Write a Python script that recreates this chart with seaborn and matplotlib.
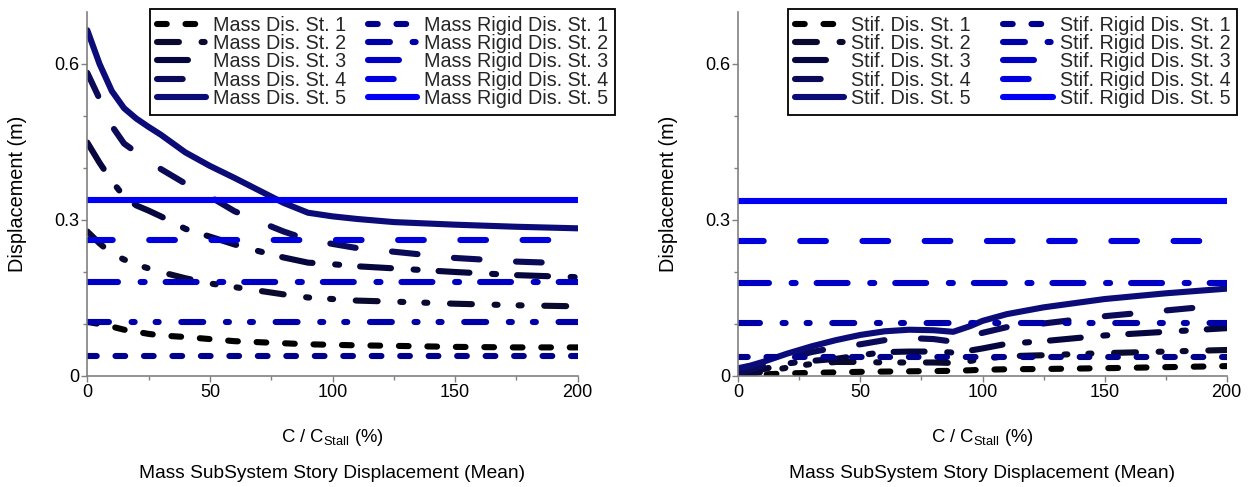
import numpy as np
import pandas as pd
import matplotlib
matplotlib.use("Agg")
import matplotlib.pyplot as plt
import seaborn as sns

# ---------------- data ----------------
x_mass = [0, 5, 10, 15, 20, 25, 30, 40, 50, 60, 70, 80, 90, 100, 110, 125, 150, 175, 200]
mass_dis_st1 = [0.104, 0.100, 0.095, 0.089, 0.085, 0.081, 0.078, 0.075, 0.071, 0.067, 0.065, 0.063,
                0.061, 0.060, 0.059, 0.058, 0.056, 0.055, 0.055]
mass_dis_st2 = [0.278, 0.255, 0.235, 0.224, 0.214, 0.207, 0.200, 0.188, 0.178, 0.171, 0.164, 0.157,
                0.151, 0.148, 0.145, 0.143, 0.139, 0.136, 0.134]
mass_dis_st3 = [0.449, 0.410, 0.375, 0.345, 0.328, 0.318, 0.307, 0.283, 0.268, 0.253, 0.240, 0.228,
                0.218, 0.215, 0.211, 0.207, 0.200, 0.194, 0.190]
mass_dis_st4 = [0.583, 0.533, 0.481, 0.447, 0.430, 0.413, 0.398, 0.370, 0.345, 0.317, 0.297, 0.278,
                0.262, 0.254, 0.246, 0.239, 0.227, 0.220, 0.216]
mass_dis_st5 = [0.665, 0.600, 0.548, 0.515, 0.495, 0.479, 0.464, 0.430, 0.404, 0.381, 0.357, 0.333,
                0.314, 0.307, 0.302, 0.296, 0.291, 0.287, 0.284]

x_stif = [0, 5, 10, 15, 20, 25, 30, 40, 50, 60, 70, 80, 88, 95, 100, 110, 125, 150, 175, 200]
stif_dis_st1 = [0.000, 0.001, 0.003, 0.004, 0.005, 0.0055, 0.006, 0.007, 0.008, 0.0085, 0.009, 0.0095,
                0.010, 0.011, 0.012, 0.013, 0.0135, 0.015, 0.017, 0.019]
stif_dis_st2 = [0.001, 0.004, 0.008, 0.012, 0.016, 0.020, 0.023, 0.027, 0.027, 0.026, 0.026, 0.026,
                0.025, 0.029, 0.033, 0.038, 0.040, 0.044, 0.047, 0.050]
stif_dis_st3 = [0.003, 0.008, 0.013, 0.018, 0.024, 0.027, 0.029, 0.033, 0.040, 0.046, 0.047, 0.047,
                0.045, 0.049, 0.053, 0.062, 0.067, 0.078, 0.085, 0.092]
stif_dis_st4 = [0.006, 0.012, 0.020, 0.028, 0.035, 0.040, 0.046, 0.055, 0.061, 0.069, 0.073, 0.071,
                0.066, 0.077, 0.083, 0.094, 0.101, 0.115, 0.126, 0.137]
stif_dis_st5 = [0.015, 0.020, 0.027, 0.035, 0.043, 0.050, 0.057, 0.069, 0.079, 0.086, 0.089, 0.088,
                0.085, 0.096, 0.106, 0.119, 0.132, 0.148, 0.159, 0.168]

x_rigid = [0, 200]
mass_rigid = [0.038, 0.1035, 0.181, 0.261, 0.339]
stif_rigid = [0.036, 0.101, 0.178, 0.260, 0.337]

mass_dis_labels = [f"Mass Dis. St. {i}" for i in range(1, 6)]
mass_rigid_labels = [f"Mass Rigid Dis. St. {i}" for i in range(1, 6)]
stif_dis_labels = [f"Stif. Dis. St. {i}" for i in range(1, 6)]
stif_rigid_labels = [f"Stif. Rigid Dis. St. {i}" for i in range(1, 6)]

x_title = "C / C$_{\\mathrm{Stall}}$ (%)"
y_title = "Displacement (m)"
sub_title = "Mass SubSystem Story Displacement (Mean)"

# ---------------- style ----------------
sns.set_theme(style="white")
plt.rcParams["font.family"] = ["Liberation Sans", "DejaVu Sans"]
plt.rcParams["mathtext.fontset"] = "custom"
plt.rcParams["mathtext.rm"] = "Liberation Sans"
plt.rcParams["mathtext.it"] = "Liberation Sans:italic"
plt.rcParams["lines.scale_dashes"] = False

dis_colors = ["#000000", "#0a0a2e", "#06063f", "#0a0a58", "#0c0c78"]
rigid_colors = ["#00008c", "#0000a8", "#0000c4", "#0000dc", "#0000f5"]
patterns = [
    (0, (7.0, 13.5)),
    (0, (15.8, 16.3, 2.2, 15.1, 2.2, 16.3)),
    (0, (22.3, 16.3, 2.9, 15.1)),
    (0, (18.5, 26.3)),
    "solid",
]
LW = 4.4
AXC = "#808080"

fig = plt.figure(figsize=(12.53, 4.87), dpi=100)
W, H = 1253, 487
ax1 = fig.add_axes([87.3 / W, 1 - 376 / H, (577.7 - 87.3) / W, 364 / H])
ax2 = fig.add_axes([738.3 / W, 1 - 376 / H, (1226.7 - 738.3) / W, 364 / H])


def draw(ax, xs, dis, dis_labels, rigid, rigid_labels, legend_left, colspace):
    handles = []
    for i in range(5):
        sns.lineplot(x=xs, y=dis[i], ax=ax, color=dis_colors[i], linewidth=LW,
                     linestyle=patterns[i], dash_capstyle="round", solid_capstyle="round",
                     label=dis_labels[i], legend=False, sort=False)
        handles.append(ax.get_lines()[-1])
    for i in range(5):
        sns.lineplot(x=x_rigid, y=[rigid[i], rigid[i]], ax=ax, color=rigid_colors[i], linewidth=LW,
                     linestyle=patterns[i], dash_capstyle="round", solid_capstyle="round",
                     label=rigid_labels[i], legend=False, sort=False)
        handles.append(ax.get_lines()[-1])
    ax.set_xlim(0, 200)
    ax.set_ylim(0, 0.7)
    ax.set_xticks([0, 50, 100, 150, 200])
    ax.set_xticks([25, 75, 125, 175], minor=True)
    ax.set_yticks([0, 0.3, 0.6])
    ax.set_yticklabels(["0", "0.3", "0.6"])
    ax.set_yticks([0.1, 0.2, 0.4, 0.5], minor=True)
    for s in ["top", "right"]:
        ax.spines[s].set_visible(False)
    for s in ["left", "bottom"]:
        ax.spines[s].set_color(AXC)
        ax.spines[s].set_linewidth(1.2)
    ax.tick_params(which="both", direction="out", color=AXC, width=1.0, labelsize=13,
                   labelcolor="black", left=True, bottom=True)
    ax.tick_params(which="major", length=4, pad=2)
    ax.tick_params(which="minor", length=3)
    ax.set_ylabel(y_title, fontsize=14.3, color="black")
    ax.yaxis.set_label_coords(-0.142, 0.5)
    ax.yaxis.label.set_va("center")
    ax.set_xlabel(x_title, fontsize=13.3, color="black")
    ax.xaxis.set_label_coords(0.5, (376 - 437) / 364)
    ax.xaxis.label.set_va("center")
    ax.text(0.5, (376 - 474) / 364, sub_title, transform=ax.transAxes, ha="center", va="center",
            fontsize=13.8, color="black")
    ax.set_facecolor("white")
    leg = ax.legend(handles, dis_labels + rigid_labels, ncol=2, loc="upper left",
                    bbox_to_anchor=(legend_left / W, 1 - 9 / H), bbox_transform=fig.transFigure,
                    borderaxespad=0, fontsize=14.2, frameon=True, fancybox=False, framealpha=1,
                    edgecolor="black", handlelength=2.5, handletextpad=0.35, labelspacing=-0.04,
                    columnspacing=colspace, borderpad=0.35)
    leg.get_frame().set_linewidth(1.3)


draw(ax1, x_mass, [mass_dis_st1, mass_dis_st2, mass_dis_st3, mass_dis_st4, mass_dis_st5],
     mass_dis_labels, mass_rigid, mass_rigid_labels, 150, 1.1)
draw(ax2, x_stif, [stif_dis_st1, stif_dis_st2, stif_dis_st3, stif_dis_st4, stif_dis_st5],
     stif_dis_labels, stif_rigid, stif_rigid_labels, 788, 1.65)

fig.savefig("out.png", dpi=100, facecolor="white")
